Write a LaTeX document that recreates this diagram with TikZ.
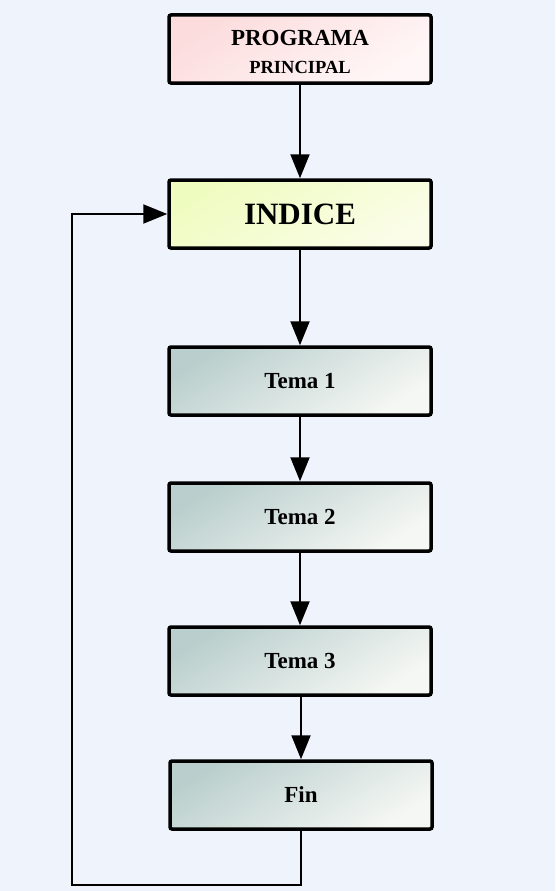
\documentclass[tikz,border=0pt]{standalone}
\usepackage{fontspec}
\setmainfont{Liberation Serif}
\usetikzlibrary{arrows.meta}

\definecolor{pagebg}{HTML}{EFF3FB}
\definecolor{pinkA}{HTML}{FCDCDD}
\definecolor{pinkB}{HTML}{FFF7F7}
\definecolor{yellowA}{HTML}{EFFCC0}
\definecolor{yellowB}{HTML}{FBFDE8}
\definecolor{tealA}{HTML}{BACFCD}
\definecolor{tealB}{HTML}{F5F7F4}

\tikzset{
  flowbox/.style={draw=black, line width=3.5pt, rounded corners=2pt,
    minimum width=262pt, minimum height=68pt, align=center,
    font=\bfseries\fontsize{23}{27}\selectfont},
  startbox/.style={flowbox, top color=pinkA, bottom color=pinkB, shading angle=32},
  indexbox/.style={flowbox, top color=yellowA, bottom color=yellowB, shading angle=32,
    font=\bfseries\fontsize{31}{34}\selectfont},
  topicbox/.style={flowbox, top color=tealA, bottom color=tealB, shading angle=32},
  boxtext/.style={align=center, inner sep=0pt,
    font=\bfseries\fontsize{23}{27}\selectfont},
  flow/.style={line width=2pt, -{Triangle[length=24pt, width=19pt]}}
}

\begin{document}
\begin{tikzpicture}[x=1pt, y=-1pt]
  \fill[pagebg] (0,0) rectangle (555,891);
  \useasboundingbox (0,0) rectangle (555,891);

  \node[startbox] (prog) at (300,49) {};
  \node[boxtext] (progtext) at (300,52)
    {PROGRAMA\\[1pt]{\fontsize{18.5}{22}\selectfont PRINCIPAL}};
  \node[indexbox] (indice) at (300,214) {INDICE};
  \node[topicbox] (t1) at (300,381) {Tema 1};
  \node[topicbox] (t2) at (300,517) {Tema 2};
  \node[topicbox] (t3) at (300,661) {Tema 3};
  \node[topicbox] (fin) at (301,795) {Fin};

  \coordinate (loopA) at (fin.south |- 0,885);
  \coordinate (loopB) at (72,885);

  \draw[flow] (prog) -- (indice);
  \draw[flow] (indice) -- (t1);
  \draw[flow] (t1) -- (t2);
  \draw[flow] (t2) -- (t3);
  \draw[flow] (t3.south -| fin.north) -- (fin.north);
  \draw[flow] (fin.south) -- (loopA) -- (loopB) |- (indice.west);
\end{tikzpicture}
\end{document}
